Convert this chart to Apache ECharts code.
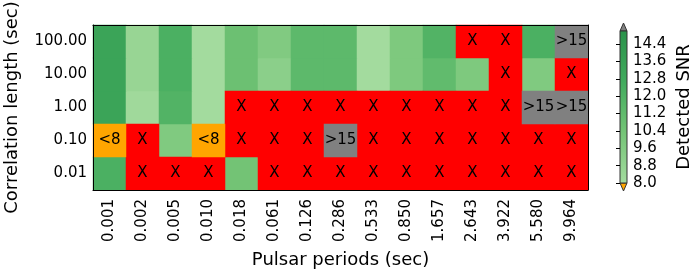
<!DOCTYPE html>
<html>
<head>
<meta charset="utf-8">
<script src="https://cdn.jsdelivr.net/npm/echarts@6/dist/echarts.min.js"></script>
<style>html,body{margin:0;padding:0;background:#fff;}#c{width:694px;height:272px;}</style>
</head>
<body>
<div id="c"></div>
<script>
// Categories
var periods = ['0.001','0.002','0.005','0.010','0.018','0.061','0.126','0.286','0.533','0.850','1.657','2.643','3.922','5.580','9.964'];
var corrLengths = ['0.01','0.10','1.00','10.00','100.00'];
// Grid values, one array per correlation length (numbers = detected SNR, 'X' = not detected)
var row_100  = [13.3, 8.6, 12.2, 8.05, 10.7, 9.7, 11.4, 11.4, 8.05, 9.85, 11.9, 'X', 'X', 12.2, '>15'];
var row_10   = [13.3, 8.6, 12.2, 8.05, 10.7, 9.2, 11.4, 11.4, 8.05, 9.85, 11.2, 9.85, 'X', 9.75, 'X'];
var row_1    = [13.3, 8.2, 11.9, 8.05, 'X','X','X','X','X','X','X','X','X', '>15', '>15'];
var row_0_1  = ['<8','X', 9.75, '<8','X','X','X','>15','X','X','X','X','X','X','X'];
var row_0_01 = [12.2,'X','X','X', 10.4,'X','X','X','X','X','X','X','X','X','X'];
var rows = [row_0_01, row_0_1, row_1, row_10, row_100]; // bottom to top
// Colour bar
var snrMin = 8, snrMax = 15, snrStep = 0.8;
var greens = ['#a4db9f', '#74c476', '#41ab5d', '#2a924a'];

var numData = [], xData = [], hiData = [], loData = [];
rows.forEach(function (r, yi) {
  r.forEach(function (v, xi) {
    if (typeof v === 'number') numData.push([xi, yi, v]);
    else if (v === 'X') xData.push([xi, yi, 0]);
    else if (v === '>15') hiData.push([xi, yi, 0]);
    else if (v === '<8') loData.push([xi, yi, 0]);
  });
});

var font = 'DejaVu Sans';
var chart = echarts.init(document.getElementById('c'));
function catSeries(data, color, text) {
  return {
    type: 'heatmap', xAxisIndex: 0, yAxisIndex: 0, data: data,
    itemStyle: { color: color },
    label: { show: true, formatter: text, fontSize: 15, color: '#000', fontFamily: font },
    emphasis: { disabled: true }
  };
}
var stops = greens.map(function (c, i) { return { offset: i / (greens.length - 1), color: c }; });

chart.setOption({
  animation: false,
  textStyle: { fontFamily: font },
  grid: [
    { left: 93, top: 25, width: 495, height: 165, outerBoundsMode: 'none', containLabel: false },
    { left: 620, top: 31, width: 7, height: 152, outerBoundsMode: 'none', containLabel: false }
  ],
  xAxis: [
    { type: 'category', data: periods, gridIndex: 0, position: 'bottom', z: 10,
      axisLine: { lineStyle: { color: '#000' } },
      axisTick: { inside: true, alignWithLabel: true, length: 5, lineStyle: { color: '#000' } },
      axisLabel: { rotate: 90, fontSize: 15, color: '#000', margin: 9, fontFamily: font },
      name: 'Pulsar periods (sec)', nameLocation: 'middle', nameGap: 61,
      nameTextStyle: { fontSize: 18, color: '#000', fontFamily: font } },
    { type: 'category', data: periods, gridIndex: 0, position: 'top', z: 10,
      axisLine: { lineStyle: { color: '#000' } },
      axisTick: { inside: true, alignWithLabel: true, length: 5, lineStyle: { color: '#000' } },
      axisLabel: { show: false } },
    { type: 'value', gridIndex: 1, min: 0, max: 1, show: false }
  ],
  yAxis: [
    { type: 'category', data: corrLengths, gridIndex: 0, position: 'left', z: 10,
      axisLine: { lineStyle: { color: '#000' } },
      axisTick: { inside: true, alignWithLabel: true, length: 5, lineStyle: { color: '#000' } },
      axisLabel: { fontSize: 15, color: '#000', margin: 6, fontFamily: font },
      name: 'Correlation length (sec)', nameLocation: 'middle', nameGap: 72,
      nameTextStyle: { fontSize: 18, color: '#000', fontFamily: font } },
    { type: 'category', data: corrLengths, gridIndex: 0, position: 'right', z: 10,
      axisLine: { lineStyle: { color: '#000' } },
      axisTick: { inside: true, alignWithLabel: true, length: 5, lineStyle: { color: '#000' } },
      axisLabel: { show: false } },
    { type: 'value', gridIndex: 1, min: snrMin, max: snrMax, interval: snrStep, position: 'right', z: 10,
      splitLine: { show: false },
      axisLine: { show: false },
      axisTick: { show: true, inside: true, length: 4, lineStyle: { color: '#000' } },
      axisLabel: { fontSize: 15, color: '#000', margin: 6, showMaxLabel: false, fontFamily: font,
        formatter: function (v) { return v.toFixed(1); } },
      name: 'Detected SNR', nameLocation: 'middle', nameGap: 48,
      nameTextStyle: { fontSize: 18, color: '#000', fontFamily: font } }
  ],
  visualMap: {
    type: 'continuous', show: false, min: snrMin, max: snrMax, seriesIndex: 0, dimension: 2,
    inRange: { color: greens }
  },
  series: [
    { type: 'heatmap', xAxisIndex: 0, yAxisIndex: 0, data: numData, emphasis: { disabled: true } },
    catSeries(xData, '#ff0000', 'X'),
    catSeries(hiData, '#808080', '>15'),
    catSeries(loData, '#ffa500', '<8'),
    { type: 'custom', xAxisIndex: 2, yAxisIndex: 2, clip: false, z: 5,
      data: [[0, snrMin, snrMax]],
      encode: { x: 0, y: [1, 2] },
      renderItem: function (params, api) {
        var p0 = api.coord([0, api.value(1)]);
        var p1 = api.coord([1, api.value(2)]);
        var x0 = p0[0], yb = p0[1], x1 = p1[0], yt = p1[1], xm = (x0 + x1) / 2, th = 8;
        return { type: 'group', children: [
          { type: 'polygon', shape: { points: [[x0, yt], [x1, yt], [xm, yt - th]] },
            style: { fill: '#808080', stroke: '#333', lineWidth: 1 } },
          { type: 'polygon', shape: { points: [[x0, yb], [x1, yb], [xm, yb + th]] },
            style: { fill: '#ffa500', stroke: '#333', lineWidth: 1 } },
          { type: 'rect', shape: { x: x0, y: yt, width: x1 - x0, height: yb - yt },
            style: { fill: new echarts.graphic.LinearGradient(0, 1, 0, 0, stops), stroke: '#333', lineWidth: 1 } }
        ] };
      }
    }
  ]
});
</script>
</body>
</html>
